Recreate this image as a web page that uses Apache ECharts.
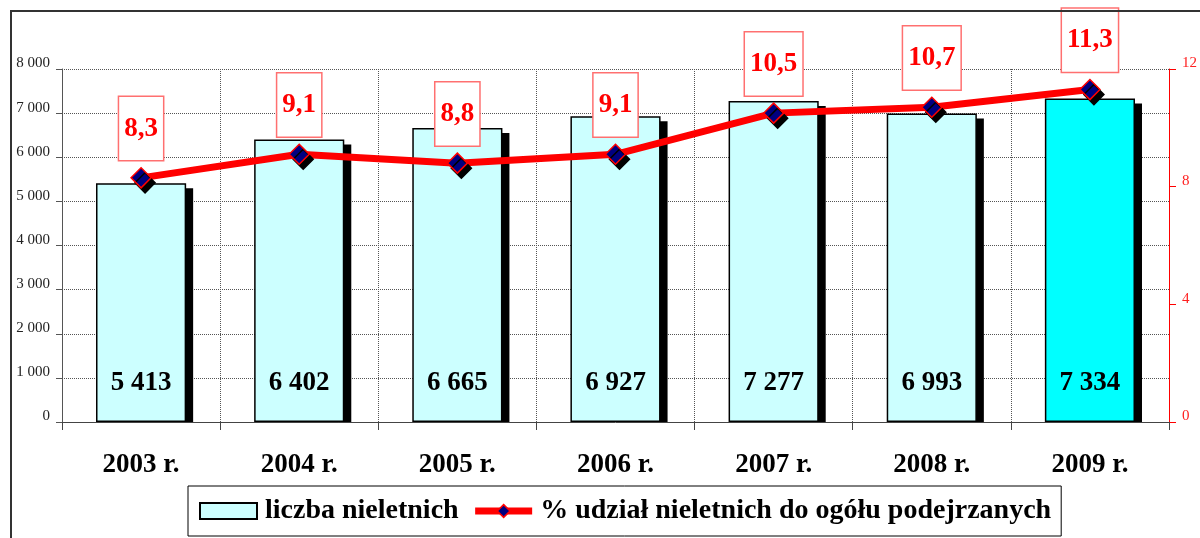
<!DOCTYPE html>
<html>
<head>
<meta charset="utf-8">
<script src="https://cdn.jsdelivr.net/npm/echarts@6/dist/echarts.min.js"></script>
<style>
  html, body { margin: 0; padding: 0; background: #fff; }
  #main { width: 1200px; height: 538px; }
</style>
</head>
<body>
<div id="main"></div>
<script>
// dane
var lata = ["2003 r.", "2004 r.", "2005 r.", "2006 r.", "2007 r.", "2008 r.", "2009 r."];
var liczbaNieletnich = [5413, 6402, 6665, 6927, 7277, 6993, 7334];
var udzialProcent = [8.3, 9.1, 8.8, 9.1, 10.5, 10.7, 11.3];

var SERIF = "'Liberation Serif', 'DejaVu Serif', serif";
var BAR_W = 0.57;

// spacja jako separator tysięcy
function tys(v) {
  return String(v).replace(/\B(?=(\d{3})+(?!\d))/g, " ");
}

var chart = echarts.init(document.getElementById("main"));

chart.setOption({
  animation: false,
  textStyle: { fontFamily: SERIF },
  grid: { left: 62, right: 28, top: 69, bottom: 116 },
  graphic: [
    {
      type: "rect",
      z: 100,
      shape: { x: 11, y: 11, width: 1250, height: 600 },
      style: { fill: "none", stroke: "#333", lineWidth: 2 },
      silent: true
    }
  ],
  legend: {
    bottom: 2,
    left: 188,
    padding: [11, 10, 11, 11],
    borderColor: "#000",
    borderWidth: 1,
    itemGap: 13,
    itemWidth: 57,
    itemHeight: 16,
    textStyle: { fontFamily: SERIF, fontSize: 28, fontWeight: "bold", color: "#000", padding: [0, 0, 0, 3] },
    data: [
      { name: "liczba nieletnich", icon: "rect" },
      {
        name: "% udział nieletnich do ogółu podejrzanych",
        lineStyle: { width: 7, color: "#ff0000" },
        itemStyle: { color: "#000080", borderColor: "#ff0000", borderWidth: 1.5 }
      }
    ]
  },
  xAxis: {
    type: "category",
    data: lata,
    axisLine: { lineStyle: { color: "#444" } },
    axisTick: { show: true, length: 8, lineStyle: { color: "#444" } },
    splitLine: { show: true, lineStyle: { type: "dotted", color: "#555" } },
    axisLabel: {
      margin: 30,
      fontFamily: SERIF,
      fontSize: 27,
      fontWeight: "bold",
      color: "#000"
    }
  },
  yAxis: [
    {
      type: "value",
      min: 0,
      max: 8000,
      interval: 1000,
      axisLine: { show: true, lineStyle: { color: "#555" } },
      axisTick: { show: true, length: 6, lineStyle: { color: "#555" } },
      splitLine: { lineStyle: { type: "dotted", color: "#555" } },
      axisLabel: {
        margin: 12,
        fontFamily: SERIF,
        fontSize: 15,
        color: "#222",
        verticalAlign: "bottom",
        lineHeight: 11,
        formatter: function (v) { return tys(v); }
      }
    },
    {
      type: "value",
      position: "right",
      min: 0,
      max: 12,
      interval: 4,
      axisLine: { show: true, lineStyle: { color: "#ff0000" } },
      axisTick: { show: true, length: 7, lineStyle: { color: "#ff0000" } },
      splitLine: { show: false },
      axisLabel: {
        margin: 13,
        fontFamily: SERIF,
        fontSize: 15,
        color: "#ff2020",
        verticalAlign: "bottom",
        lineHeight: 11
      }
    }
  ],
  series: [
    {
      // cień słupków
      name: "cien",
      type: "custom",
      silent: true,
      z: 1,
      data: liczbaNieletnich.map(function (v, i) { return [i, v]; }),
      encode: { x: 0, y: 1 },
      renderItem: function (params, api) {
        var top = api.coord([api.value(0), api.value(1)]);
        var base = api.coord([api.value(0), 0]);
        var w = api.size([1, 0])[0] * BAR_W;
        return {
          type: "rect",
          shape: { x: top[0] - w / 2 + 7, y: top[1] + 5, width: w, height: base[1] - top[1] - 5 },
          style: { fill: "#000" }
        };
      }
    },
    {
      name: "liczba nieletnich",
      type: "bar",
      z: 2,
      barWidth: BAR_W * 100 + "%",
      data: liczbaNieletnich.map(function (v, i) {
        if (i === liczbaNieletnich.length - 1) {
          return { value: v, itemStyle: { color: "#00ffff" } };
        }
        return v;
      }),
      itemStyle: {
        color: "#ccffff",
        borderColor: "#000",
        borderWidth: 1.5
      },
      label: {
        show: true,
        position: "insideBottom",
        distance: 25,
        fontFamily: SERIF,
        fontSize: 27,
        fontWeight: "bold",
        color: "#000",
        formatter: function (p) { return tys(p.value); }
      }
    },
    {
      name: "% udział nieletnich do ogółu podejrzanych",
      type: "line",
      yAxisIndex: 1,
      z: 5,
      data: udzialProcent,
      lineStyle: { color: "#ff0000", width: 7 },
      symbol: "diamond",
      symbolSize: 20,
      itemStyle: {
        color: "#000080",
        borderColor: "#ff0000",
        borderWidth: 1.5,
        shadowColor: "#000",
        shadowBlur: 0,
        shadowOffsetX: 4,
        shadowOffsetY: 5
      },
      label: {
        show: true,
        position: "top",
        distance: 7,
        fontFamily: SERIF,
        fontSize: 27,
        fontWeight: "bold",
        color: "#ff0000",
        backgroundColor: "#fff",
        borderColor: "#ff7070",
        borderWidth: 1.5,
        padding: [18, 5, 18, 5],
        formatter: function (p) { return String(p.value).replace(".", ","); }
      }
    }
  ]
});
</script>
</body>
</html>
